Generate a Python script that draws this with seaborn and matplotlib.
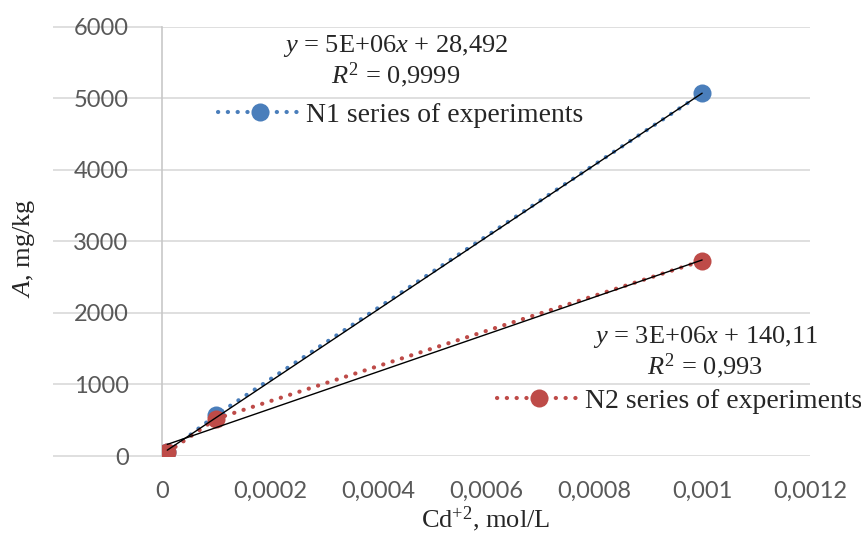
import numpy as np
import pandas as pd
import matplotlib
matplotlib.use("Agg")
import matplotlib.pyplot as plt
import matplotlib.transforms as mtransforms
import seaborn as sns

# concentrations of Cd+2, mol/L
conc = [0.00001, 0.0001, 0.001]
n1_values = [50, 570, 5070]
n2_values = [50, 520, 2730]

x_ticks = [0, 0.0002, 0.0004, 0.0006, 0.0008, 0.001, 0.0012]
x_tick_labels = ["0", "0,0002", "0,0004", "0,0006", "0,0008", "0,001", "0,0012"]
y_ticks = [0, 1000, 2000, 3000, 4000, 5000, 6000]

N1_LABEL = "N1 series of experiments"
N2_LABEL = "N2 series of experiments"
N1_EQ = "$y$ = 5E+06$x$ + 28,492"
N1_R2 = "$R^2$ = 0,9999"
N2_EQ = "$y$ = 3E+06$x$ + 140,11"
N2_R2 = "$R^2$ = 0,993"

BLUE = "#4A7EBB"
RED = "#BE4B48"
GRID = "#D9D9D9"
TICK_COLOR = "#595959"

sns.set_style("white")
plt.rcParams["mathtext.fontset"] = "custom"
plt.rcParams["mathtext.rm"] = "Liberation Serif"
plt.rcParams["mathtext.it"] = "Liberation Serif:italic"
plt.rcParams["font.family"] = ["Liberation Serif", "DejaVu Serif"]

df = pd.DataFrame({"conc": conc, "N1": n1_values, "N2": n2_values})

fig = plt.figure(figsize=(8.61, 5.38), dpi=100)
ax = fig.add_axes([0.188, 0.1524, 0.753, 0.7976])

dot = (0, (0.05, 2.3))

# trend lines (least squares) in thin black
sns.regplot(data=df, x="conc", y="N1", ax=ax, scatter=False, ci=None, truncate=True,
            color="black", line_kws={"lw": 1.0, "zorder": 4})
sns.regplot(data=df, x="conc", y="N2", ax=ax, scatter=False, ci=None, truncate=True,
            color="black", line_kws={"lw": 1.0, "zorder": 4})

# data series
sns.lineplot(data=df, x="conc", y="N1", ax=ax, color=BLUE, marker="o", markersize=13,
             markeredgewidth=0, lw=3.0, linestyle=dot, dash_capstyle="round",
             label=N1_LABEL, zorder=3)
sns.lineplot(data=df, x="conc", y="N2", ax=ax, color=RED, marker="o", markersize=13,
             markeredgewidth=0, lw=3.0, linestyle=dot, dash_capstyle="round",
             label=N2_LABEL, zorder=3)

ax.set_xlim(0, 0.0012)
ax.set_ylim(0, 6000)
ax.set_xticks(x_ticks)
ax.set_xticklabels(x_tick_labels)
ax.set_yticks(y_ticks)
ax.set_yticklabels([str(v) for v in y_ticks])

for lbl in ax.get_xticklabels() + ax.get_yticklabels():
    lbl.set_fontfamily("Lato")
    lbl.set_fontsize(17)
    lbl.set_color(TICK_COLOR)
ax.tick_params(axis="both", length=0)
ax.tick_params(axis="y", pad=24)
ax.tick_params(axis="x", pad=18)

for side in ["top", "right", "bottom"]:
    ax.spines[side].set_visible(False)
ax.spines["left"].set_color("#C8C8C8")
ax.spines["left"].set_linewidth(1.2)

ax.yaxis.grid(True, color=GRID, lw=1.2)
ax.xaxis.grid(False)
ax.set_axisbelow(True)

# gridlines run out to the left under the tick labels
trans = mtransforms.blended_transform_factory(ax.transAxes, ax.transData)
ax.hlines(y_ticks, -0.168, 0, transform=trans, color=GRID, lw=1.2, clip_on=False, zorder=0)

ax.set_xlabel("Cd$^{+2}$, mol/L", fontsize=19)
ax.xaxis.set_label_coords(0.5, -0.112)
ax.set_ylabel("$A$, mg/kg", fontsize=19)
ax.yaxis.set_label_coords(-0.192, 0.485)

handles, labels = ax.get_legend_handles_labels()
ax.get_legend().remove()
leg1 = ax.legend([handles[0]], [labels[0]], loc="center left", bbox_to_anchor=(0.07, 0.795),
                 frameon=False, fontsize=20, handlelength=3.0, handletextpad=0.15,
                 borderaxespad=0, numpoints=1)
ax.add_artist(leg1)
ax.legend([handles[1]], [labels[1]], loc="center left", bbox_to_anchor=(0.5, 0.128),
          frameon=False, fontsize=20, handlelength=3.0, handletextpad=0.15,
          borderaxespad=0, numpoints=1)

ax.text(0.36, 0.955, N1_EQ, transform=ax.transAxes, ha="center", va="center", fontsize=19)
ax.text(0.36, 0.888, N1_R2, transform=ax.transAxes, ha="center", va="center", fontsize=19)
ax.text(0.838, 0.277, N2_EQ, transform=ax.transAxes, ha="center", va="center", fontsize=19)
ax.text(0.838, 0.21, N2_R2, transform=ax.transAxes, ha="center", va="center", fontsize=19)

fig.savefig("out.png", dpi=100)
